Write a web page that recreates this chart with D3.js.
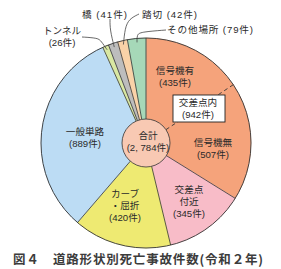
<!DOCTYPE html>
<html>
<head>
<meta charset="utf-8">
<script src="https://cdn.jsdelivr.net/npm/d3@7"></script>
<style>
  body { margin: 0; background: #fff; }
  svg { display: block; font-family: "Noto Sans CJK JP", "Noto Sans", sans-serif; }
  .lbl { font-family: "Liberation Sans", "Noto Sans CJK JP", sans-serif; }
</style>
</head>
<body>
<svg id="chart" width="281" height="269"></svg>
<script>
// data (clockwise from 12 o'clock)
var categories = ["信号機有", "信号機無", "交差点付近", "カーブ・屈折", "一般単路", "トンネル", "橋", "踏切", "その他場所"];
var values = [435, 507, 345, 420, 889, 26, 41, 42, 79];
var colors = ["#f5a37b", "#f5a37b", "#f8bcc8", "#eeea72", "#bcdcf4", "#d9e8a2", "#bdbdbd", "#f9d2a8", "#a6d8b8"];
var totalLabel = ["合計", "(2, 784件)"];
var innerLabel = ["交差点内", "(942件)"];
var titleText = "図４　道路形状別死亡事故件数(令和２年)";

var width = 281, height = 269;
var cx = 146, cy = 143, radius = 105, holeR = 24;

var svg = d3.select("#chart");
var g = svg.append("g").attr("transform", "translate(" + cx + "," + cy + ")");

var pie = d3.pie().sort(null).value(function (d) { return d; });
var slices = pie(values);

var arc = d3.arc().innerRadius(0).outerRadius(radius);

// slice fills
g.selectAll("path.slice")
    .data(slices)
    .enter()
    .append("path")
    .attr("class", "slice")
    .attr("d", arc)
    .attr("fill", function (d, i) { return colors[i]; })
    .attr("stroke", function (d, i) { return colors[i]; })
    .attr("stroke-width", 0.5);

// boundaries between slices (the 信号機有/無 split is dashed)
function pt(a, r) { return [Math.sin(a) * r, -Math.cos(a) * r]; }
g.selectAll("line.sep")
    .data(slices)
    .enter()
    .append("line")
    .attr("class", "sep")
    .attr("x1", function (d) { return pt(d.startAngle, holeR)[0]; })
    .attr("y1", function (d) { return pt(d.startAngle, holeR)[1]; })
    .attr("x2", function (d) { return pt(d.startAngle, radius)[0]; })
    .attr("y2", function (d) { return pt(d.startAngle, radius)[1]; })
    .attr("stroke", "#333")
    .attr("stroke-width", function (d, i) { return i == 1 ? 0.9 : 0.8; })
    .attr("stroke-dasharray", function (d, i) { return i == 1 ? "4,3" : null; });

// outer rim
g.append("circle").attr("r", radius).attr("fill", "none").attr("stroke", "#333").attr("stroke-width", 0.9);

// centre disc
g.append("circle").attr("r", holeR).attr("fill", "#f8c9b3").attr("stroke", "#333").attr("stroke-width", 0.8);

var txt = "#2a2a2a";
var fs = 9.6, lh = 11.8;
function label(x, y, lines) {
    lines.forEach(function (s, k) {
        svg.append("text")
            .attr("class", "lbl")
            .attr("x", x).attr("y", y + k * lh)
            .attr("text-anchor", "middle")
            .attr("font-size", fs)
            .attr("fill", txt)
            .text(s);
    });
}

label(148, 139, totalLabel);

// labels inside the slices
label(175, 74, ["信号機有", "(435件)"]);
label(213, 146, ["信号機無", "(507件)"]);
label(189, 193, ["交差点", "付近", "(345件)"]);
label(125, 197, ["カーブ", "・屈折", "(420件)"]);
label(85, 135, ["一般単路", "(889件)"]);

// 交差点内 box
svg.append("rect").attr("x", 173).attr("y", 95).attr("width", 52).attr("height", 27)
    .attr("fill", "#fff").attr("stroke", "#222").attr("stroke-width", 0.9);
label(198, 106, innerLabel);

// outer labels with leader lines
function leader(i, pts) {
    var m = (slices[i].startAngle + slices[i].endAngle) / 2;
    var end = pt(m, radius - 4);
    var line = pts.concat([[cx + end[0], cy + end[1]]]);
    svg.append("path")
        .attr("d", d3.line().curve(d3.curveBasis)(line))
        .attr("fill", "none").attr("stroke", "#444").attr("stroke-width", 0.8);
}
leader(5, [[82, 37], [98, 38], [101, 41]]);
leader(6, [[110, 19], [110, 30]]);
leader(7, [[139, 14], [129, 19], [125, 28]]);
leader(8, [[166, 30], [140, 32], [137, 35]]);

label(62, 34, ["トンネル", "(26件)"]);
function side(x, y, s, w) {
    svg.append("text").attr("class", "lbl").attr("x", x).attr("y", y).attr("font-size", fs).attr("fill", txt)
        .attr("textLength", w).attr("lengthAdjust", "spacing").text(s);
}
side(82, 18, "橋 (41件)", 45);
side(142, 18, "踏切 (42件)", 55);
side(167, 33, "その他場所 (79件)", 86);

// title
svg.append("text")
    .attr("x", 13).attr("y", 264)
    .attr("font-size", 12.5)
    .attr("font-weight", "bold")
    .attr("fill", "#3c3c3c")
    .attr("textLength", 250).attr("lengthAdjust", "spacing")
    .text(titleText);
</script>
</body>
</html>
